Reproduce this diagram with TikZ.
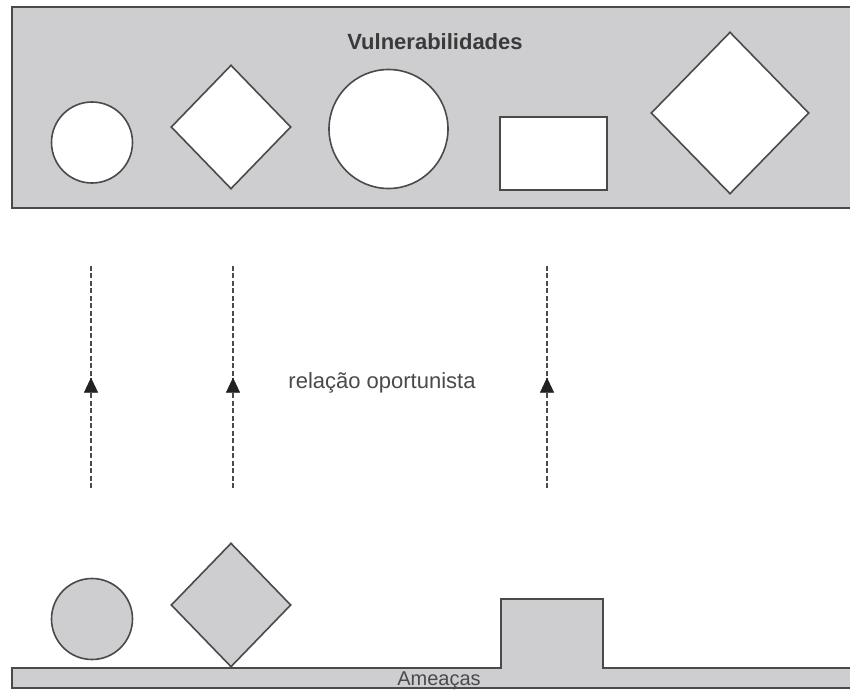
\documentclass[tikz,border=0pt]{standalone}
\usepackage{fontspec}
\setmainfont{Liberation Sans}
\usetikzlibrary{shapes.geometric,arrows.meta,decorations.markings}
\definecolor{panel}{HTML}{CECED1}
\definecolor{ink}{HTML}{4A4A4A}
\definecolor{txt}{HTML}{3A3A3A}
\definecolor{tipcol}{HTML}{222222}
\begin{document}
\begin{tikzpicture}[x=1pt,y=-1pt,
  outline/.style={draw=ink,line width=1.6pt},
  hollow/.style={outline,fill=white,inner sep=0pt},
  shaded/.style={outline,fill=panel,inner sep=0pt},
  round/.style={circle,minimum size=#1},
  rhomb/.style={diamond,minimum width=#1,minimum height=#1+4},
  label/.style={font=\fontsize{22}{26}\selectfont,text=txt,anchor=base,inner sep=0pt},
  link/.style={draw=ink,line width=1.3pt,dash pattern=on 5pt off 2.5pt,
    postaction={decorate},
    decoration={markings,mark=at position 0.495 with
      {\arrow[tipcol,solid,line width=0.5pt]{Triangle[length=15pt,width=14pt]}}}}
]
\useasboundingbox (0,0) rectangle (850,690);
\clip (0,0) rectangle (850,690);
\fill[white] (0,0) rectangle (850,690);

% upper band
\draw[outline,fill=panel] (12,7) rectangle (860,208);
\node[label,font=\fontsize{22}{26}\selectfont\bfseries] (vtitle) at (435,50) {Vulnerabilidades};
\node[hollow,round=81pt] (v1) at (92,142.5) {};
\node[hollow,rhomb=120pt] (v2) at (231,127) {};
\node[hollow,round=119pt] (v3) at (388.5,129) {};
\node[hollow,minimum width=107pt,minimum height=73pt] (v4) at (553.5,153.5) {};
\node[hollow,rhomb=158pt] (v5) at (730,113) {};

% opportunistic links
\coordinate (a1) at (91,488);  \coordinate (b1) at (91,265);
\coordinate (a2) at (233,488); \coordinate (b2) at (233,265);
\coordinate (a3) at (547,488); \coordinate (b3) at (547,265);
\draw[link] (a1) -- (b1);
\draw[link] (a2) -- (b2);
\draw[link] (a3) -- (b3);
\node[label,text=ink] (rel) at (382,388) {relação oportunista};

% lower band with raised block
\draw[outline,fill=panel] (12,688) -- (12,668) -- (501,668) -- (501,599)
  -- (603,599) -- (603,668) -- (860,668) -- (860,688) -- cycle;
\node[shaded,round=81pt] (t1) at (92,619) {};
\node[shaded,rhomb=120pt] (t2) at (231,605) {};
\node[label,text=ink,font=\fontsize{20}{24}\selectfont] (ameacas) at (439,685) {Ameaças};
\end{tikzpicture}
\end{document}
